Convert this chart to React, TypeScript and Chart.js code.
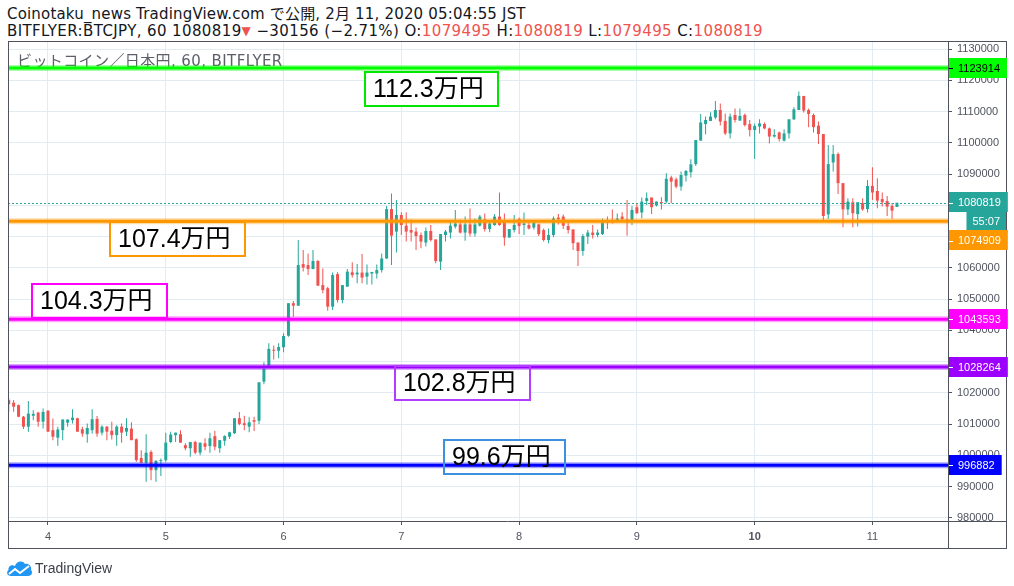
import React, { useEffect, useRef } from 'react';
import { Chart, registerables } from 'chart.js';

Chart.register(...registerables);

// ---------- data (prices in thousand JPY, hourly candles) ----------
const FIRST_HOUR = -8; // first candle = Feb 3 16:00 (hours relative to Feb 4 00:00)

const OPEN_K = [
  1017.7, 1016.9, 1016.1, 1012.4, 1009.2, 1012.7, 1013.7, 1010.8, 1014.3, 1008.1,
  1005.7, 1008.1, 1010.5, 1011.3, 1011.9, 1008.4, 1006.8, 1008.1, 1011.7, 1007.3,
  1009.2, 1007.9, 1006.5, 1009.2, 1007.6, 1008.6, 1005.2, 999.2, 997.7, 1001.1,
  995.3, 998.2, 998.5, 1004.3, 1006.5, 1006.8, 1003.3, 1002.3, 1004.3, 1000.9,
  1003.9, 1003.0, 1006.2, 1002.3, 1004.7, 1006.0, 1007.1, 1011.9, 1010.3, 1009.2,
  1011.3, 1011.1, 1023.6, 1028.7, 1033.8, 1033.5, 1034.6, 1038.3, 1048.7, 1047.9,
  1061.2, 1060.9, 1059.6, 1062.2, 1054.5, 1053.5, 1047.6, 1058.0, 1049.7, 1054.0,
  1058.6, 1057.9, 1058.5, 1057.2, 1058.2, 1058.2, 1059.3, 1063.0, 1078.8, 1071.6,
  1076.9, 1073.5, 1072.1, 1071.6, 1070.5, 1068.1, 1071.8, 1069.1, 1062.0, 1070.5,
  1071.3, 1073.2, 1073.9, 1071.3, 1073.9, 1071.0, 1073.5, 1075.5, 1072.4, 1073.7,
  1076.4, 1075.1, 1069.7, 1072.1, 1075.6, 1073.7, 1073.7, 1072.9, 1073.9, 1072.1,
  1068.9, 1070.5, 1076.1, 1076.4, 1073.4, 1072.3, 1068.1, 1065.4, 1070.0, 1071.3,
  1070.5, 1070.8, 1075.0, 1075.3, 1074.8, 1076.4, 1075.5, 1075.0, 1079.4, 1077.7,
  1081.4, 1082.5, 1080.0, 1081.0, 1081.2, 1088.9, 1088.3, 1086.0, 1089.5, 1090.6,
  1093.2, 1100.7, 1106.0, 1107.0, 1108.1, 1110.5, 1107.0, 1103.0, 1108.9, 1107.1,
  1108.9, 1106.0, 1104.1, 1105.2, 1106.0, 1104.6, 1102.0, 1103.3, 1100.7, 1103.0,
  1107.5, 1110.5, 1115.0, 1110.5, 1108.9, 1105.5, 1102.8, 1077.1, 1093.7, 1096.4,
  1087.1, 1078.7, 1081.0, 1077.2, 1080.7, 1078.8, 1086.2, 1084.6, 1082.0, 1081.4,
  1079.8, 1079.495,
];

const HIGH_K = [
  1018.3, 1017.7, 1016.3, 1012.6, 1017.4, 1014.5, 1014.0, 1015.0, 1014.5, 1011.8,
  1009.2, 1011.5, 1011.5, 1014.8, 1012.1, 1009.2, 1010.2, 1014.8, 1012.6, 1009.7,
  1009.4, 1010.8, 1009.7, 1010.2, 1011.9, 1010.6, 1005.4, 1001.7, 1006.8, 1001.7,
  998.5, 999.0, 1007.3, 1007.6, 1007.3, 1008.1, 1003.9, 1004.3, 1004.7, 1004.1,
  1005.5, 1007.3, 1007.9, 1004.9, 1006.5, 1007.6, 1011.9, 1013.9, 1012.7, 1012.2,
  1012.4, 1023.4, 1029.8, 1035.9, 1035.2, 1035.9, 1039.1, 1048.7, 1049.4, 1068.9,
  1065.7, 1064.6, 1065.7, 1062.5, 1059.8, 1054.0, 1058.5, 1058.6, 1054.5, 1059.6,
  1061.8, 1061.2, 1064.4, 1061.1, 1058.7, 1061.1, 1064.6, 1079.8, 1083.8, 1081.7,
  1077.8, 1077.8, 1075.5, 1072.9, 1071.3, 1072.9, 1073.7, 1069.1, 1070.8, 1072.1,
  1075.3, 1078.5, 1075.5, 1076.4, 1079.0, 1075.8, 1076.9, 1077.4, 1075.3, 1077.2,
  1084.1, 1077.4, 1072.4, 1076.9, 1076.1, 1077.7, 1074.8, 1075.3, 1074.2, 1072.6,
  1072.6, 1076.4, 1077.2, 1077.1, 1074.8, 1072.3, 1068.1, 1070.8, 1072.1, 1073.7,
  1072.3, 1075.8, 1076.4, 1078.7, 1077.4, 1077.8, 1081.7, 1079.8, 1080.7, 1082.5,
  1084.1, 1082.5, 1081.2, 1082.6, 1090.3, 1089.5, 1088.9, 1090.8, 1091.3, 1094.7,
  1100.9, 1109.2, 1108.4, 1109.8, 1113.4, 1112.6, 1109.4, 1109.4, 1111.0, 1111.0,
  1109.4, 1107.3, 1106.2, 1107.5, 1106.5, 1104.9, 1104.3, 1103.6, 1104.3, 1107.5,
  1111.4, 1116.4, 1115.0, 1111.0, 1109.4, 1106.8, 1102.8, 1099.3, 1099.3, 1096.9,
  1087.1, 1082.3, 1082.3, 1081.0, 1082.3, 1088.1, 1092.2, 1088.7, 1084.1, 1083.0,
  1080.7, 1080.819,
];

const LOW_K = [
  1014.0, 1014.0, 1012.2, 1008.5, 1007.6, 1011.3, 1009.2, 1008.6, 1007.6, 1004.9,
  1003.1, 1004.9, 1009.2, 1010.2, 1007.6, 1006.0, 1004.1, 1007.0, 1006.0, 1006.5,
  1004.9, 1005.1, 1003.1, 1004.1, 1006.2, 1004.9, 998.0, 997.5, 991.6, 992.1,
  991.6, 993.4, 998.0, 1003.9, 1004.3, 1004.1, 1001.7, 999.6, 1000.4, 1000.1,
  1001.7, 1000.9, 1001.7, 1000.9, 1003.1, 1005.3, 1006.9, 1009.7, 1008.1, 1007.4,
  1007.8, 1010.1, 1022.8, 1028.4, 1030.7, 1031.1, 1033.0, 1038.0, 1044.4, 1047.9,
  1058.8, 1057.7, 1059.6, 1054.3, 1051.9, 1046.3, 1046.5, 1048.9, 1048.7, 1054.0,
  1056.9, 1055.1, 1055.1, 1054.7, 1054.7, 1056.6, 1058.5, 1062.8, 1060.9, 1064.9,
  1070.5, 1068.4, 1068.4, 1065.7, 1066.3, 1066.8, 1068.4, 1061.5, 1059.3, 1068.4,
  1069.4, 1072.6, 1071.0, 1068.7, 1070.0, 1070.0, 1073.2, 1071.6, 1071.4, 1073.5,
  1073.5, 1067.1, 1069.7, 1071.3, 1070.8, 1070.5, 1072.3, 1072.3, 1070.2, 1068.4,
  1067.9, 1069.8, 1073.9, 1072.4, 1071.0, 1065.7, 1060.6, 1063.9, 1067.6, 1069.4,
  1069.8, 1070.5, 1072.4, 1074.2, 1074.8, 1074.8, 1070.3, 1073.7, 1077.2, 1075.9,
  1080.1, 1077.2, 1079.6, 1078.7, 1080.7, 1080.7, 1085.5, 1084.7, 1087.6, 1088.9,
  1092.6, 1100.7, 1102.7, 1107.0, 1107.5, 1105.5, 1102.5, 1101.4, 1106.5, 1107.1,
  1105.2, 1102.0, 1094.8, 1103.0, 1104.3, 1099.8, 1101.7, 1100.4, 1100.4, 1101.4,
  1107.3, 1110.5, 1109.7, 1105.0, 1103.3, 1099.6, 1075.0, 1075.6, 1090.8, 1083.6,
  1073.0, 1076.9, 1073.0, 1073.2, 1078.3, 1077.7, 1081.7, 1079.1, 1079.6, 1076.6,
  1075.6, 1079.495,
];

const CLOSE_K = [
  1016.4, 1015.6, 1012.4, 1009.2, 1013.4, 1013.3, 1010.8, 1013.9, 1007.6, 1006.0,
  1008.3, 1011.5, 1011.5, 1012.1, 1007.6, 1007.0, 1008.8, 1011.6, 1007.0, 1009.2,
  1007.6, 1006.5, 1009.2, 1007.3, 1008.8, 1004.9, 998.5, 997.7, 1000.9, 995.3,
  998.3, 998.5, 1004.1, 1006.7, 1007.3, 1004.1, 1002.3, 1004.3, 1000.9, 1004.1,
  1002.8, 1005.5, 1002.8, 1004.9, 1006.2, 1007.4, 1011.9, 1010.1, 1009.7, 1010.6,
  1010.8, 1023.4, 1027.7, 1034.1, 1033.5, 1034.7, 1038.2, 1048.7, 1047.9, 1060.9,
  1060.1, 1059.6, 1062.2, 1054.3, 1052.9, 1047.6, 1057.7, 1049.7, 1054.5, 1058.8,
  1057.7, 1058.5, 1056.9, 1058.5, 1058.7, 1059.3, 1063.0, 1078.8, 1070.3, 1076.9,
  1073.7, 1071.6, 1071.3, 1070.2, 1068.4, 1071.8, 1068.9, 1062.2, 1070.8, 1071.6,
  1073.5, 1074.2, 1071.3, 1073.9, 1071.0, 1073.9, 1076.4, 1072.4, 1074.2, 1076.4,
  1073.7, 1069.7, 1072.4, 1073.7, 1073.4, 1074.2, 1072.6, 1074.6, 1070.8, 1068.9,
  1070.5, 1075.8, 1075.5, 1073.5, 1072.1, 1067.9, 1065.4, 1070.2, 1071.3, 1070.5,
  1071.3, 1074.6, 1074.5, 1074.5, 1075.8, 1075.5, 1074.5, 1078.5, 1077.5, 1081.2,
  1082.3, 1079.4, 1081.2, 1080.7, 1088.5, 1087.6, 1086.0, 1089.7, 1091.0, 1093.1,
  1100.9, 1106.5, 1107.3, 1108.4, 1110.5, 1106.8, 1103.0, 1108.4, 1107.3, 1108.6,
  1105.7, 1104.1, 1105.4, 1106.2, 1104.6, 1102.0, 1102.5, 1101.2, 1103.0, 1107.5,
  1110.7, 1115.0, 1110.3, 1109.2, 1105.0, 1102.8, 1076.6, 1093.2, 1096.4, 1087.1,
  1078.7, 1081.2, 1077.5, 1081.0, 1078.7, 1086.2, 1084.1, 1081.5, 1081.0, 1079.6,
  1078.3, 1080.819,
];

const DAY_TICKS = [0, 24, 48, 72, 96, 120, 144, 168];
const DAY_LABELS = ['4', '5', '6', '7', '8', '9', '10', '11'];
const BOLD_DAY = '10';
const X_MIN = -8.15;
const X_MAX = 183.4;

const Y_TICKS = [
  980000, 990000, 1000000, 1010000, 1020000, 1030000, 1040000, 1050000,
  1060000, 1070000, 1080000, 1090000, 1100000, 1110000, 1120000, 1130000,
];
const Y_MIN = 979040;
const Y_MAX = 1132560;

const LEVELS = [1123914, 1074909, 1043593, 1028264, 996882];
const LEVEL_COLORS = ['#00ff00', '#ff9800', '#ff00ff', '#9c00ff', '#0000ff'];
const LEVEL_TEXT = ['#000000', '#ffffff', '#ffffff', '#ffffff', '#ffffff'];

const ANNO_TEXT = ['112.3万円', '107.4万円', '104.3万円', '102.8万円', '99.6万円'];
const ANNO_X = [64.6, 12.6, -3.3, 70.7, 80.7];
const ANNO_Y = [1122645, 1074675, 1054847, 1028623, 1004958];
const ANNO_COLORS = ['#00e600', '#ff9800', '#ff00ff', '#b23cff', '#3d8fe0'];

const LAST_PRICE = 1080819;
const COUNTDOWN = '55:07';
const LEGEND_TEXT = 'ビットコイン／日本円, 60, BITFLYER';

// ---------- styles ----------
const FONT = '"Liberation Sans", Arial, "Noto Sans CJK JP", sans-serif';
const HEAD_FONT = '"DejaVu Sans", "Noto Sans CJK JP", sans-serif';
const UP = '#26a69a';
const DOWN = '#ef5350';
const GRID = '#e1ecf2';
const AXIS = '#50535e';
const LABEL_H = 19;

const overlayPlugin = {
  id: 'overlay',
  afterDatasetsDraw(chart: any) {
    const { ctx, chartArea: a, scales } = chart;
    const xs = scales.x;
    const ys = scales.y;
    ctx.save();
    ctx.beginPath();
    ctx.rect(a.left, a.top, a.right - a.left, a.bottom - a.top);
    ctx.clip();

    // pane legend
    ctx.font = `15px ${HEAD_FONT}`;
    try {
      (ctx as any).letterSpacing = '0.4px';
    } catch (e) {
      /* ignore */
    }
    ctx.fillStyle = '#5d606b';
    ctx.textAlign = 'left';
    ctx.textBaseline = 'alphabetic';
    ctx.fillText(LEGEND_TEXT, a.left + 9, a.top + 25);
    try {
      (ctx as any).letterSpacing = '0px';
    } catch (e) {
      /* ignore */
    }

    // current price dotted line
    const yc = Math.round(ys.getPixelForValue(LAST_PRICE)) + 0.5;
    ctx.strokeStyle = UP;
    ctx.lineWidth = 1;
    ctx.setLineDash([2, 2]);
    ctx.beginPath();
    ctx.moveTo(a.left, yc);
    ctx.lineTo(a.right, yc);
    ctx.stroke();
    ctx.setLineDash([]);

    // annotation boxes (fill)
    ctx.font = `25px ${FONT}`;
    const boxes = ANNO_TEXT.map((t, i) => ({
      l: Math.round(xs.getPixelForValue(ANNO_X[i])),
      t: Math.round(ys.getPixelForValue(ANNO_Y[i])),
      w: Math.round(ctx.measureText(t).width + 22),
    }));
    boxes.forEach((b) => {
      ctx.fillStyle = '#ffffff';
      ctx.fillRect(b.l, b.t, b.w, 34);
    });

    // horizontal levels
    LEVELS.forEach((v, i) => {
      const yy = ys.getPixelForValue(v);
      ctx.strokeStyle = LEVEL_COLORS[i];
      ctx.globalAlpha = 0.35;
      ctx.lineWidth = 6;
      ctx.beginPath();
      ctx.moveTo(a.left, yy);
      ctx.lineTo(a.right, yy);
      ctx.stroke();
      ctx.globalAlpha = 1;
      ctx.lineWidth = 3;
      ctx.beginPath();
      ctx.moveTo(a.left, yy);
      ctx.lineTo(a.right, yy);
      ctx.stroke();
    });

    // annotation borders + text
    boxes.forEach((b, i) => {
      ctx.strokeStyle = ANNO_COLORS[i];
      ctx.lineWidth = 2;
      ctx.strokeRect(b.l, b.t, b.w, 34);
      ctx.fillStyle = '#000000';
      ctx.textBaseline = 'middle';
      ctx.fillText(ANNO_TEXT[i], b.l + 8, b.t + 18);
    });
    ctx.restore();
  },
  afterDraw(chart: any) {
    const { ctx, chartArea: a, scales } = chart;
    const xs = scales.x;
    const ys = scales.y;
    ctx.save();
    // frame
    ctx.strokeStyle = AXIS;
    ctx.lineWidth = 1;
    const L = a.left + 0.5, T = a.top + 0.5, R = ys.right - 0.5, B = xs.bottom - 0.5;
    ctx.strokeRect(L, T, R - L, B - T);
    ctx.beginPath();
    ctx.moveTo(L, Math.round(xs.top) + 0.5);
    ctx.lineTo(R, Math.round(xs.top) + 0.5);
    ctx.moveTo(Math.round(ys.left) + 0.5, T);
    ctx.lineTo(Math.round(ys.left) + 0.5, B);
    ctx.stroke();

    // price-axis labels
    ctx.font = `11px ${FONT}`;
    ctx.textBaseline = 'middle';
    ctx.textAlign = 'left';
    type Item = { top: number; parts: { text: string; bg: string; fg: string; right: boolean }[] };
    const items: Item[] = LEVELS.map((v, i) => ({
      top: ys.getPixelForValue(v) - LABEL_H / 2,
      parts: [{ text: String(v), bg: LEVEL_COLORS[i], fg: LEVEL_TEXT[i], right: false }],
    }));
    items.push({
      top: ys.getPixelForValue(LAST_PRICE) - LABEL_H / 2,
      parts: [
        { text: String(LAST_PRICE), bg: UP, fg: '#ffffff', right: false },
        { text: COUNTDOWN, bg: UP, fg: '#ffffff', right: true },
      ],
    });
    items.sort((p, q) => p.top - q.top);
    let prevBottom = -Infinity;
    const x0 = Math.round(ys.left) + 1;
    const xr = Math.round(ys.right) - 1;
    items.forEach((it) => {
      let top = Math.max(it.top, prevBottom);
      it.parts.forEach((p) => {
        const tw = ctx.measureText(p.text).width;
        const w = p.right ? tw + 12 : tw + 16;
        const bx = p.right ? xr - w : x0;
        ctx.fillStyle = p.bg;
        ctx.fillRect(bx, Math.round(top) - 1, w, LABEL_H + 1);
        ctx.fillStyle = p.fg;
        ctx.fillText(p.text, p.right ? bx + 6 : x0 + 9, Math.round(top) + LABEL_H / 2 + 0.5);
        if (!p.right) {
          ctx.strokeStyle = p.fg;
          ctx.beginPath();
          ctx.moveTo(x0, Math.round(top + LABEL_H / 2) + 0.5);
          ctx.lineTo(x0 + 4, Math.round(top + LABEL_H / 2) + 0.5);
          ctx.stroke();
        }
        top += LABEL_H;
      });
      prevBottom = top;
    });
    ctx.restore();
  },
};

function Logo() {
  return (
    <svg width="27" height="18" viewBox="0 0 27 18" style={{ display: 'block' }}>
      <path
        d="M5 17 C1 17 0 13 2.5 11 C2 7 6 5 9 7 C10 2 17 1 19 5 C22 4 26 7 25 11 C27 13 26 17 22 17 Z"
        fill="#2196f3"
      />
      <polyline points="3,15 9,10 14,14 23,7" fill="none" stroke="#ffffff" strokeWidth="2" />
    </svg>
  );
}

export default function App() {
  const ref = useRef<HTMLCanvasElement>(null);

  useEffect(() => {
    if (!ref.current) return;
    const hours = OPEN_K.map((_, i) => FIRST_HOUR + i);
    const colors = OPEN_K.map((o, i) => (CLOSE_K[i] >= o ? UP : DOWN));
    const chart = new Chart(ref.current, {
      type: 'bar',
      data: {
        datasets: [
          {
            label: 'wick',
            data: hours.map((h, i) => ({ x: h, y: [LOW_K[i] * 1000, HIGH_K[i] * 1000] })) as any,
            backgroundColor: colors,
            barThickness: 1,
            grouped: false,
            borderWidth: 0,
            inflateAmount: 0,
          } as any,
          {
            label: 'body',
            data: hours.map((h, i) => ({ x: h, y: [OPEN_K[i] * 1000, CLOSE_K[i] * 1000] })) as any,
            backgroundColor: colors,
            barThickness: 3,
            grouped: false,
            minBarLength: 1,
            borderWidth: 0,
            inflateAmount: 0,
          } as any,
        ],
      },
      options: {
        animation: false,
        responsive: false,
        maintainAspectRatio: false,
        layout: { padding: { left: 8, top: 41, right: 7, bottom: 37 } },
        plugins: { legend: { display: false }, tooltip: { enabled: false } },
        scales: {
          x: {
            type: 'linear',
            min: X_MIN,
            max: X_MAX,
            offset: false,
            afterBuildTicks: (s: any) => {
              s.ticks = DAY_TICKS.map((v) => ({ value: v }));
            },
            afterFit: (s: any) => {
              s.height = 28;
            },
            ticks: {
              autoSkip: false,
              maxRotation: 0,
              padding: 5,
              color: AXIS,
              callback: (v: any) => DAY_LABELS[DAY_TICKS.indexOf(Number(v))] ?? '',
              font: (c: any) => ({
                family: FONT,
                size: 11,
                weight: c.tick && c.tick.label === BOLD_DAY ? 'bold' : 'normal',
              }),
            },
            grid: { color: GRID, tickColor: AXIS, tickLength: 4, lineWidth: 1, offset: false },
            border: { display: false },
          } as any,
          y: {
            type: 'linear',
            position: 'right',
            min: Y_MIN,
            max: Y_MAX,
            afterBuildTicks: (s: any) => {
              s.ticks = Y_TICKS.map((v) => ({ value: v }));
            },
            afterFit: (s: any) => {
              s.width = 59;
            },
            ticks: {
              padding: 5,
              color: AXIS,
              callback: (v: any) => String(v),
              font: { family: FONT, size: 11 },
            },
            grid: { color: GRID, tickColor: AXIS, tickLength: 4, lineWidth: 1 },
            border: { display: false },
          } as any,
        },
      },
      plugins: [overlayPlugin],
    });
    return () => chart.destroy();
  }, []);

  const red = { color: DOWN };
  const line = {
    position: 'absolute' as const,
    left: 7,
    fontSize: 15,
    lineHeight: '18px',
    whiteSpace: 'nowrap' as const,
    fontFamily: HEAD_FONT,
  };
  return (
    <div
      style={{
        position: 'fixed',
        left: 0,
        top: 0,
        width: 1014,
        height: 586,
        background: '#ffffff',
        overflow: 'hidden',
        fontFamily: FONT,
        color: '#131722',
      }}
    >
      <div style={{ ...line, top: 5, letterSpacing: '0.18px' }}>
        Coinotaku_news TradingView.com で公開, 2月 11, 2020 05:04:55 JST
      </div>
      <div style={{ ...line, top: 22, letterSpacing: '0.39px' }}>
        BITFLYER:BTCJPY, 60 1080819<span style={{ ...red, fontSize: 12, verticalAlign: 'top' }}>▼</span> −30156 (−2.71%) O:
        <span style={red}>1079495</span> H:<span style={red}>1080819</span> L:<span style={red}>1079495</span> C:
        <span style={red}>1080819</span>
      </div>
      <canvas
        ref={ref}
        width={1014}
        height={586}
        style={{ position: 'absolute', left: 0, top: 0, width: 1014, height: 586 }}
      />
      <div style={{ position: 'absolute', left: 6, top: 559, display: 'flex', alignItems: 'center' }}>
        <Logo />
        <span style={{ marginLeft: 2, fontSize: 14, color: '#3c3f47' }}>TradingView</span>
      </div>
    </div>
  );
}
